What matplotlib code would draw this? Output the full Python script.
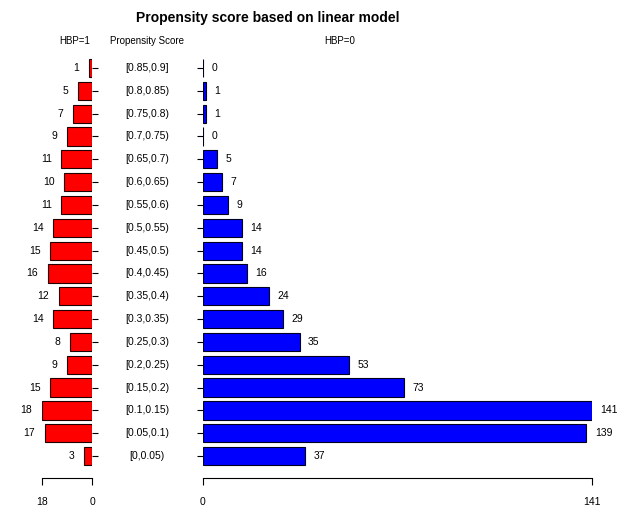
import matplotlib.pyplot as plt

plt.rcParams['font.family'] = ['Liberation Sans', 'DejaVu Sans']

# propensity score bins, top to bottom
bins = ['[0.85,0.9]', '[0.8,0.85)', '[0.75,0.8)', '[0.7,0.75)', '[0.65,0.7)',
        '[0.6,0.65)', '[0.55,0.6)', '[0.5,0.55)', '[0.45,0.5)', '[0.4,0.45)',
        '[0.35,0.4)', '[0.3,0.35)', '[0.25,0.3)', '[0.2,0.25)', '[0.15,0.2)',
        '[0.1,0.15)', '[0.05,0.1)', '[0,0.05)']
hbp1 = [1, 5, 7, 9, 11, 10, 11, 14, 15, 16, 12, 14, 8, 9, 15, 18, 17, 3]
hbp0 = [0, 1, 1, 0, 5, 7, 9, 14, 14, 16, 24, 29, 35, 53, 73, 141, 139, 37]

W, H = 620, 517
fig = plt.figure(figsize=(W / 100, H / 100), dpi=100)

def px(x0, x1, ytop=55, ybot=478):
    return [x0 / W, 1 - ybot / H, (x1 - x0) / W, (ybot - ytop) / H]

ypos = list(range(len(bins)))
ylim = (17.96, -0.57)

axl = fig.add_axes(px(42, 92))
axr = fig.add_axes(px(203, 592))

axl.barh(ypos, hbp1, height=0.8, color='#ff0000', edgecolor='#200000', linewidth=0.8)
axr.barh(ypos, hbp0, height=0.8, color='#0000ff', edgecolor='#000020', linewidth=0.8)

axl.set_xlim(max(hbp1), 0)
axr.set_xlim(0, max(hbp0))
for ax in (axl, axr):
    ax.set_ylim(*ylim)
    for s in ['top', 'left', 'right']:
        ax.spines[s].set_visible(False)
    ax.spines['bottom'].set_linewidth(0.8)
    ax.tick_params(axis='x', direction='out', length=5, width=0.8, pad=9, labelsize=7.5)
    ax.set_yticks(ypos)
    ax.set_yticklabels([])
    ax.tick_params(axis='y', length=4, width=0.8)

axl.spines['bottom'].set_bounds(0, max(hbp1))
axl.set_xticks([max(hbp1), 0])
axl.yaxis.tick_right()
axr.spines['bottom'].set_bounds(0, max(hbp0))
axr.set_xticks([0, max(hbp0)])

for y, v in zip(ypos, hbp1):
    axl.annotate(str(v), (v, y), xytext=(-7, 0), textcoords='offset points',
                 ha='right', va='center', fontsize=7.5)
for y, v in zip(ypos, hbp0):
    axr.annotate(str(v), (v, y), xytext=(6, 0), textcoords='offset points',
                 ha='left', va='center', fontsize=7.5)
    axr.annotate(bins[y], (0, y), xytext=(-56 / 100 * 72, 0), textcoords='offset points',
                 ha='center', va='center', fontsize=7.5)

fig.text(75 / W, 1 - 41 / H, 'HBP=1', ha='center', va='center', fontsize=7)
fig.text(147 / W, 1 - 41 / H, 'Propensity Score', ha='center', va='center', fontsize=7)
fig.text(340 / W, 1 - 41 / H, 'HBP=0', ha='center', va='center', fontsize=7)
fig.text(268 / W, 1 - 18 / H, 'Propensity score based on linear model',
         ha='center', va='center', fontsize=10, fontweight='bold')

fig.savefig('out.png', dpi=100)
